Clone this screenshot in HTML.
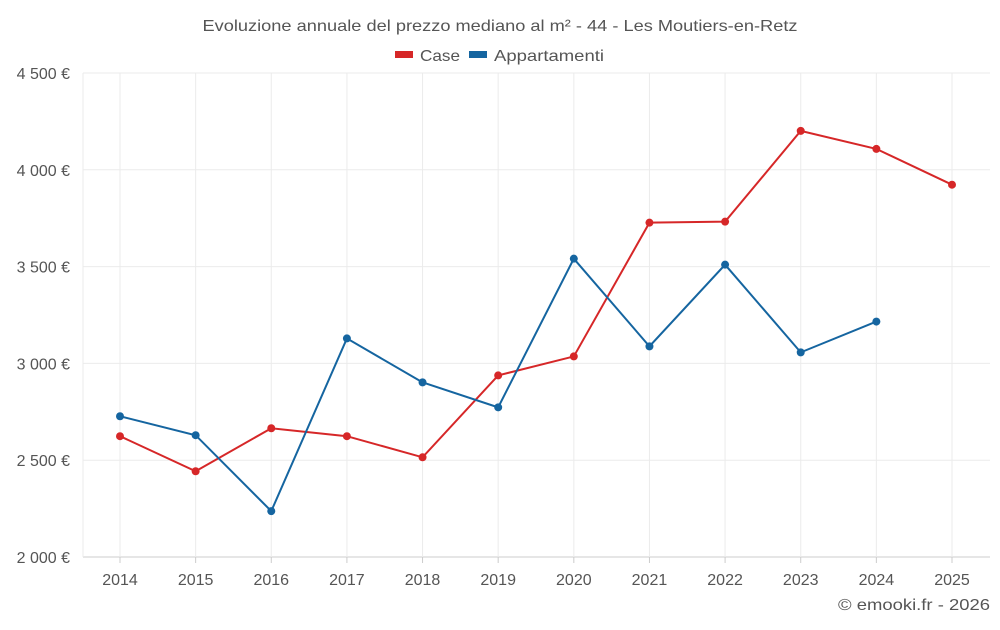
<!DOCTYPE html>
<html><head><meta charset="utf-8"><style>
body{margin:0;background:#fff;font-family:"Liberation Sans",sans-serif;}
svg text{font-family:"Liberation Sans",sans-serif;fill:#555;}
</style></head><body>
<svg id="chart" width="1000" height="625" xmlns="http://www.w3.org/2000/svg">
<text x="500" y="31" text-anchor="middle" font-size="16" textLength="595" lengthAdjust="spacingAndGlyphs">Evoluzione annuale del prezzo mediano al m² - 44 - Les Moutiers-en-Retz</text>
<g>
<rect x="395" y="51" width="18" height="7" fill="#d62728"/>
<text x="420" y="61" font-size="16" textLength="40" lengthAdjust="spacingAndGlyphs">Case</text>
<rect x="469" y="51" width="18" height="7" fill="#1565a0"/>
<text x="494" y="61" font-size="16" textLength="110" lengthAdjust="spacingAndGlyphs">Appartamenti</text>
</g>
<g id="grid"></g><g id="axes"></g><g id="series"></g>
<text x="990" y="610" text-anchor="end" font-size="16" textLength="152" lengthAdjust="spacingAndGlyphs">© emooki.fr - 2026</text>
</svg>
<script>
const years=[2014,2015,2016,2017,2018,2019,2020,2021,2022,2023,2024,2025];
const caseValues=[2624,2443,2665,2624,2515,2938,3036,3727,3732,4201,4108,3923];
const apptValues=[2727,2629,2237,3129,2902,2773,3541,3088,3510,3057,3216,null];
const yTicks=[2000,2500,3000,3500,4000,4500];
const yTickLabels=["2 000 €","2 500 €","3 000 €","3 500 €","4 000 €","4 500 €"];
const NS="http://www.w3.org/2000/svg";
const x=i=>120+i*(952-120)/11;
const y=v=>557-(v-2000)*(557-73)/2500;
function mk(tag,attrs,parent){const e=document.createElementNS(NS,tag);for(const k in attrs)e.setAttribute(k,attrs[k]);parent.appendChild(e);return e;}
const grid=document.getElementById('grid'),axes=document.getElementById('axes'),ser=document.getElementById('series');
yTicks.forEach((t,i)=>{
 const l=mk('line',{x1:83,x2:990,y1:y(t),y2:y(t),stroke:i==0?'#ccc':'#ebebeb'},grid);
 
 
 const tx=mk('text',{x:70,y:y(t)+6,'text-anchor':'end','font-size':16},axes);
 tx.textContent=yTickLabels[i];
 
 
});
mk('line',{x1:83,x2:83,y1:73,y2:557,stroke:'#ebebeb'},grid);
years.forEach((yr,i)=>{
 const l=mk('line',{x1:x(i),x2:x(i),y1:73,y2:557,stroke:'#ebebeb'},grid);
 
 
 const tk=mk('line',{x1:x(i),x2:x(i),y1:557,y2:563,stroke:'#ccc'},axes);
 
 
 const tx=mk('text',{x:x(i),y:585,'text-anchor':'middle','font-size':16},axes);
 tx.textContent=yr;
 
 
});
function draw(vals,color,name){
 let d='';vals.forEach((v,i)=>{if(v!=null)d+=(d?'L':'M')+x(i)+','+y(v);});
 const p=mk('path',{d:d,fill:'none',stroke:color,'stroke-width':2},ser);
 
 
 vals.forEach((v,i)=>{if(v==null)return;
  const c=mk('circle',{cx:x(i),cy:y(v),r:4,fill:color},ser);
  
  
 });
}
draw(caseValues,'#d62728','case');
draw(apptValues,'#1565a0','appartamenti');
</script>
</body></html>
